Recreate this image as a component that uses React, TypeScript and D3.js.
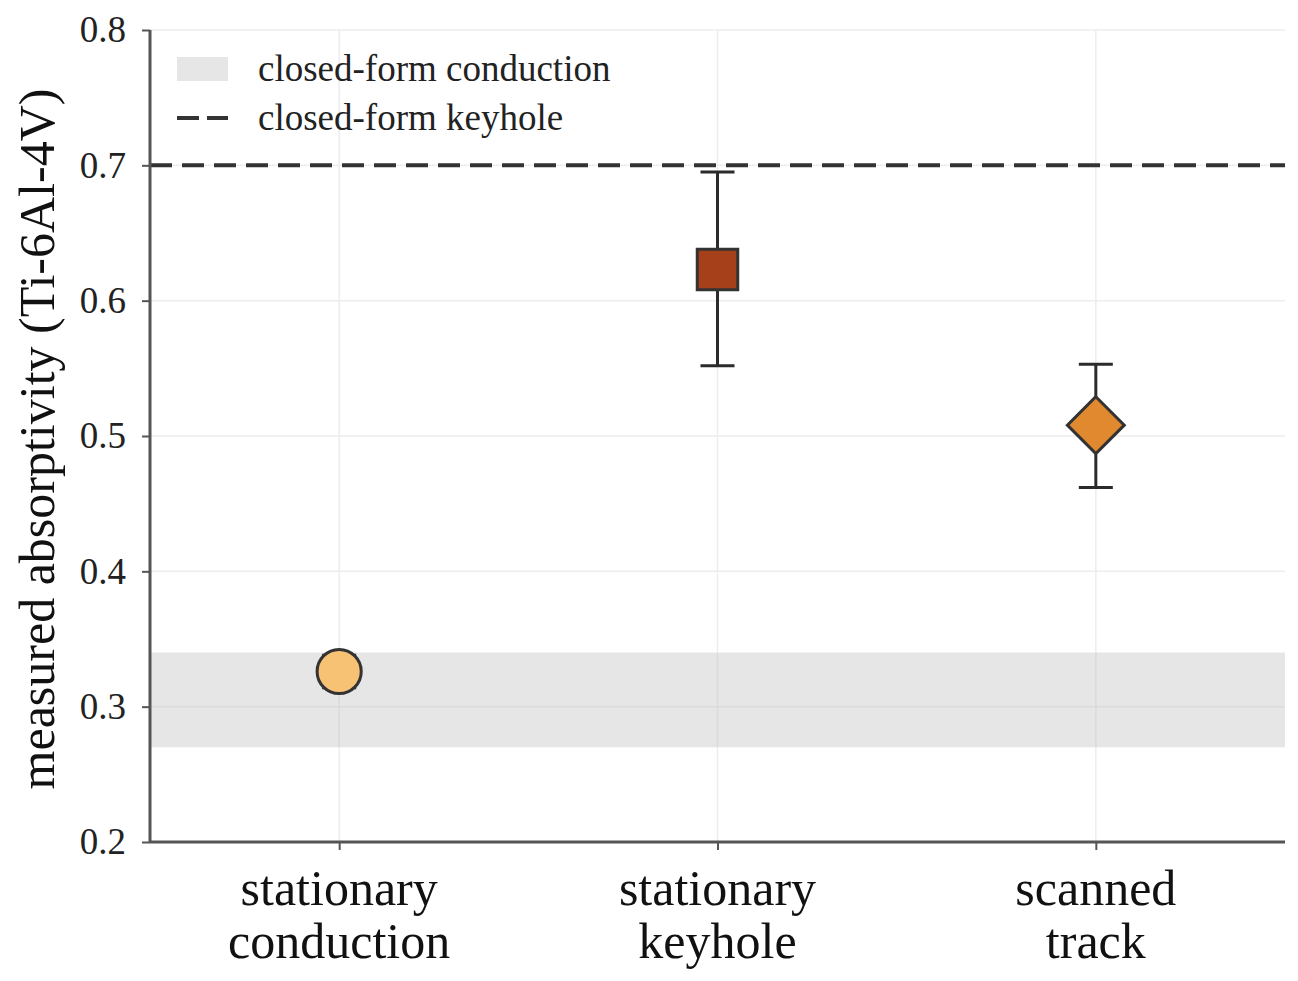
import React, { useEffect, useRef } from 'react'
import * as d3 from 'd3'

// categories and measured values
const categories = ['stationary conduction', 'stationary keyhole', 'scanned track']
const categoryLines = [['stationary', 'conduction'], ['stationary', 'keyhole'], ['scanned', 'track']]
const means = [0.326, 0.623, 0.508]
const lower = [0.314, 0.552, 0.462]
const upper = [0.338, 0.695, 0.553]
const markerShapes = ['circle', 'square', 'diamond']
const markerColors = ['#F7C274', '#A5401A', '#E0892E']

// closed-form references
const conductionBand = [0.27, 0.34]
const keyholeLine = 0.7
const yTicks = [0.2, 0.3, 0.4, 0.5, 0.6, 0.7, 0.8]
const legendLabels = ['closed-form conduction', 'closed-form keyhole']

const FONT = '"Liberation Serif", "DejaVu Serif", serif'

// matplotlib style 'D' marker: square turned 45 degrees
const symbolDiamondSquare = {
  draw(ctx: any, size: number) {
    const r = Math.sqrt(size / 2)
    ctx.moveTo(0, -r)
    ctx.lineTo(r, 0)
    ctx.lineTo(0, r)
    ctx.lineTo(-r, 0)
    ctx.closePath()
  }
}

export default function App() {
  const ref = useRef<SVGSVGElement | null>(null)

  useEffect(() => {
    if (!ref.current) return
    const svg = d3.select(ref.current)
    svg.selectAll('*').remove()

    const width = 1298
    const height = 981
    const margin = { top: 30, right: 13, bottom: 139, left: 150 }
    const innerW = width - margin.left - margin.right
    const innerH = height - margin.top - margin.bottom

    const x = d3.scaleLinear().domain([-0.5, categories.length - 0.5]).range([0, innerW])
    const y = d3.scaleLinear().domain([0.2, 0.8]).range([innerH, 0])

    const g = svg.append('g').attr('transform', `translate(${margin.left},${margin.top})`)

    // grid
    g.selectAll('line.hgrid')
      .data(yTicks)
      .enter()
      .append('line')
      .attr('x1', 0)
      .attr('x2', innerW)
      .attr('y1', (d) => y(d))
      .attr('y2', (d) => y(d))
      .attr('stroke', '#ededed')
      .attr('stroke-width', 1.5)
    g.selectAll('line.vgrid')
      .data(categories)
      .enter()
      .append('line')
      .attr('x1', (_, i) => x(i))
      .attr('x2', (_, i) => x(i))
      .attr('y1', 0)
      .attr('y2', innerH)
      .attr('stroke', '#ededed')
      .attr('stroke-width', 1.5)

    // conduction band
    g.append('rect')
      .attr('x', 0)
      .attr('width', innerW)
      .attr('y', y(conductionBand[1]))
      .attr('height', y(conductionBand[0]) - y(conductionBand[1]))
      .attr('fill', '#bdbdbd')
      .attr('fill-opacity', 0.38)

    // keyhole line
    g.append('line')
      .attr('x1', 0)
      .attr('x2', innerW)
      .attr('y1', y(keyholeLine))
      .attr('y2', y(keyholeLine))
      .attr('stroke', '#333')
      .attr('stroke-width', 4)
      .attr('stroke-dasharray', '22,10')

    // error bars
    const capHalf = 17
    categories.forEach((_, i) => {
      const cx = x(i)
      const eg = g.append('g').attr('stroke', '#2b2b2b').attr('stroke-width', 3)
      eg.append('line').attr('x1', cx).attr('x2', cx).attr('y1', y(lower[i])).attr('y2', y(upper[i]))
      eg.append('line').attr('x1', cx - capHalf).attr('x2', cx + capHalf).attr('y1', y(lower[i])).attr('y2', y(lower[i]))
      eg.append('line').attr('x1', cx - capHalf).attr('x2', cx + capHalf).attr('y1', y(upper[i])).attr('y2', y(upper[i]))
    })

    // markers
    const symbolFor = (s: string) =>
      s === 'circle' ? d3.symbolCircle : s === 'square' ? d3.symbolSquare : symbolDiamondSquare
    const sizeFor = (s: string) => (s === 'circle' ? 1530 : s === 'square' ? 1640 : 1620)
    g.selectAll('path.marker')
      .data(means)
      .enter()
      .append('path')
      .attr('transform', (d, i) => `translate(${x(i)},${y(d)})`)
      .attr('d', (_, i) => d3.symbol().type(symbolFor(markerShapes[i]) as any).size(sizeFor(markerShapes[i]))())
      .attr('fill', (_, i) => markerColors[i])
      .attr('stroke', '#333')
      .attr('stroke-width', 3)

    // axes
    const axisColor = '#555'
    const yAxis = g.append('g').call(d3.axisLeft(y).tickValues(yTicks).tickFormat(d3.format('.1f')).tickSize(8).tickPadding(16))
    yAxis.select('.domain').attr('stroke', axisColor).attr('stroke-width', 3).attr('d', `M0,0V${innerH}`)
    yAxis.selectAll('.tick line').attr('stroke', axisColor).attr('stroke-width', 2)
    yAxis.selectAll('.tick text').attr('font-family', FONT).attr('font-size', 37).attr('fill', '#222')

    const xAxis = g
      .append('g')
      .attr('transform', `translate(0,${innerH})`)
      .call(d3.axisBottom(x).tickValues(d3.range(categories.length)).tickFormat(() => '').tickSize(8))
    xAxis.select('.domain').attr('stroke', axisColor).attr('stroke-width', 3).attr('d', `M0,0H${innerW}`)
    xAxis.selectAll('.tick line').attr('stroke', axisColor).attr('stroke-width', 2)

    categoryLines.forEach((lines, i) => {
      const t = g
        .append('text')
        .attr('x', x(i))
        .attr('y', innerH + 63)
        .attr('text-anchor', 'middle')
        .attr('font-family', FONT)
        .attr('font-size', 50)
        .attr('fill', '#111')
      lines.forEach((line, j) => {
        t.append('tspan').attr('x', x(i)).attr('dy', j === 0 ? 0 : 53).text(line)
      })
    })

    // y label
    svg
      .append('text')
      .attr('transform', `translate(54,${margin.top + innerH / 2 + 3}) rotate(-90)`)
      .attr('text-anchor', 'middle')
      .attr('font-family', FONT)
      .attr('font-size', 50)
      .attr('fill', '#111')
      .text('measured absorptivity (Ti-6Al-4V)')

    // legend
    const lg = svg.append('g')
    lg.append('rect').attr('x', 177).attr('y', 57).attr('width', 51).attr('height', 24).attr('fill', '#bdbdbd').attr('fill-opacity', 0.38)
    lg.append('line')
      .attr('x1', 177)
      .attr('x2', 228)
      .attr('y1', 118)
      .attr('y2', 118)
      .attr('stroke', '#333')
      .attr('stroke-width', 4)
      .attr('stroke-dasharray', '22,8')
    legendLabels.forEach((label, i) => {
      lg.append('text')
        .attr('x', 258)
        .attr('y', 81 + i * 49)
        .attr('font-family', FONT)
        .attr('font-size', 37)
        .attr('fill', '#222')
        .text(label)
    })
  }, [])

  return (
    <svg
      ref={ref}
      width={1298}
      height={981}
      style={{ position: 'absolute', left: 0, top: 0, background: '#fff' }}
      role="img"
      aria-label={categories.join(', ')}
    />
  )
}
